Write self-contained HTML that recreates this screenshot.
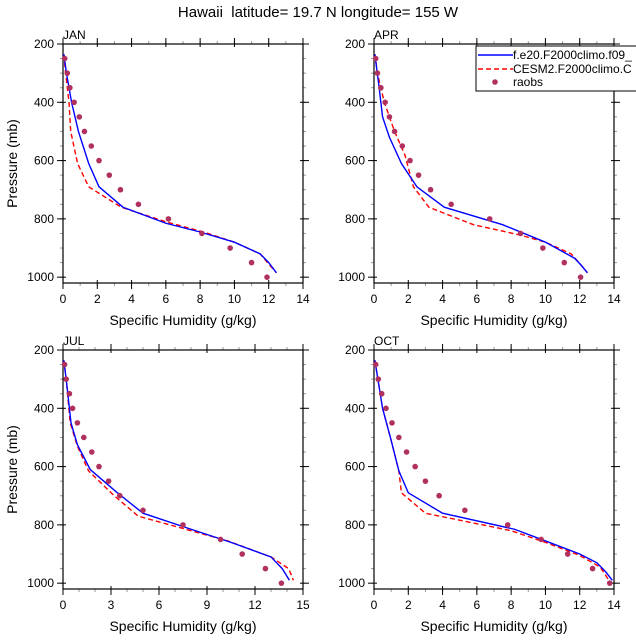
<!DOCTYPE html>
<html><head><meta charset="utf-8"><style>
body{margin:0;background:#fff;}
svg text{font-family:"Liberation Sans",sans-serif;}
</style></head><body>
<svg id="c" width="636" height="639" xmlns="http://www.w3.org/2000/svg">
<rect width="636" height="639" fill="#fff"/>
<text x="318" y="17" text-anchor="middle" font-size="15" xml:space="preserve" style="white-space:pre">Hawaii  latitude= 19.7 N longitude= 155 W</text>
</svg>
<script>
const raobsP=[250,300,350,400,450,500,550,600,650,700,750,800,850,900,950,1000];
const janRaobs=[0.1,0.25,0.4,0.65,0.95,1.25,1.65,2.1,2.7,3.35,4.4,6.15,8.1,9.75,11.0,11.9];
const aprRaobs=[0.1,0.2,0.4,0.65,0.9,1.2,1.65,2.1,2.6,3.3,4.5,6.75,8.55,9.85,11.1,12.05];
const julRaobs=[0.1,0.2,0.4,0.6,0.9,1.3,1.8,2.25,2.85,3.55,5.0,7.5,9.85,11.2,12.65,13.65];
const octRaobs=[0.1,0.25,0.45,0.7,1.05,1.45,1.9,2.4,3.0,3.8,5.3,7.8,9.75,11.3,12.75,13.75];
const janBlueQ=[0.05,0.2,0.5,0.9,1.5,2.1,3.5,6,8,10,11.5,12,12.45];
const janBlueP=[235,300,400,500,610,690,760,815,845,880,920,950,985];
const janRedQ=[0.05,0.15,0.35,0.45,0.85,1.5,3.4,6,8.2,10,11.5,12,12.45];
const janRedP=[235,300,400,500,610,690,760,810,845,880,920,955,985];
const aprBlueQ=[0.05,0.3,0.5,0.9,1.6,2.5,4.1,7.5,10,11.7,12.1,12.45];
const aprBlueP=[235,350,450,520,610,690,760,820,880,935,960,985];
const aprRedQ=[0.05,0.2,0.6,1.2,1.8,2.3,3.2,5.8,8.5,10,11.5,12.1,12.45];
const aprRedP=[235,300,400,500,580,690,760,820,855,880,920,960,985];
const julBlueQ=[0.05,0.2,0.5,0.9,1.7,3.4,5,8,10.5,13,13.7,14.15];
const julBlueP=[235,300,450,525,610,690,760,815,860,910,950,990];
const julRedQ=[0.05,0.2,0.45,0.9,1.6,3.2,4.7,8,10.3,13,14.1,14.4];
const julRedP=[235,300,450,530,615,700,770,820,855,910,950,990];
const octBlueQ=[0.05,0.5,1.0,1.45,2.0,4.0,8.2,10,12,13,13.5,13.9];
const octBlueP=[235,400,510,615,690,760,815,855,900,930,960,990];
const octRedQ=[0.05,0.5,1.0,1.45,1.6,3.0,8,10,12,13.2,13.7];
const octRedP=[235,400,510,615,690,760,820,860,905,945,990];
const xTicks14=[0,2,4,6,8,10,12,14];
const xTicks15=[0,3,6,9,12,15];
const yTicks=[200,400,600,800,1000];

const NS="http://www.w3.org/2000/svg";
const svg=document.getElementById('c');
function mk(tag,attrs,parent){const e=document.createElementNS(NS,tag);for(const k in attrs)e.setAttribute(k,attrs[k]);(parent||svg).appendChild(e);return e;}

function panel(id,label,x0,y0,xmax,xTicks,minorStep,showY,raobs,bq,bp,rq,rp,legend){
  const W=240,H=239,pMin=200,pMax=1020;
  const g=mk('g',{});
  
  
  const sx=v=>x0+v/xmax*W;
  const sy=p=>y0+(p-pMin)/(pMax-pMin)*H;
  for(let v=0;v<=xmax+1e-9;v+=minorStep){
    mk('line',{x1:sx(v),x2:sx(v),y1:y0+H,y2:y0+H+3,stroke:'#999','stroke-width':1},g);
    mk('line',{x1:sx(v),x2:sx(v),y1:y0,y2:y0-3,stroke:'#999','stroke-width':1},g);
  }
  for(let p=250;p<=1000;p+=50){
    mk('line',{x1:x0-3,x2:x0,y1:sy(p),y2:sy(p),stroke:'#999','stroke-width':1},g);
    mk('line',{x1:x0+W,x2:x0+W+3,y1:sy(p),y2:sy(p),stroke:'#999','stroke-width':1},g);
  }
  xTicks.forEach(v=>{
    mk('line',{x1:sx(v),x2:sx(v),y1:y0+H-3,y2:y0+H+6,stroke:'#000','stroke-width':1},g);
    mk('line',{x1:sx(v),x2:sx(v),y1:y0+3,y2:y0-6,stroke:'#000','stroke-width':1},g);
    const t=mk('text',{x:sx(v),y:y0+H+20,'text-anchor':'middle','font-size':12},g);t.textContent=v;
    
    
  });
  yTicks.forEach(p=>{
    mk('line',{x1:x0-6,x2:x0+3,y1:sy(p),y2:sy(p),stroke:'#000','stroke-width':1},g);
    mk('line',{x1:x0+W-3,x2:x0+W+6,y1:sy(p),y2:sy(p),stroke:'#000','stroke-width':1},g);
    const t=mk('text',{x:x0-9,y:sy(p)+4,'text-anchor':'end','font-size':12},g);t.textContent=p;
    
    
  });
  mk('rect',{x:x0,y:y0,width:W,height:H,fill:'none',stroke:'#000','stroke-width':1.2},g);
  const lb=mk('text',{x:x0,y:y0-5,'font-size':12},g);lb.textContent=label;
  
  
  const xt=mk('text',{x:x0+W/2,y:y0+H+42,'text-anchor':'middle','font-size':14},g);xt.textContent='Specific Humidity (g/kg)';
  
  
  if(showY){
    const yt=mk('text',{x:0,y:0,'text-anchor':'middle','font-size':14,transform:`translate(17,${y0+H/2}) rotate(-90)`},g);yt.textContent='Pressure (mb)';
    
    
  }
  const r=mk('polyline',{points:rq.map((q,i)=>sx(q)+','+sy(rp[i])).join(' '),fill:'none',stroke:'#f00','stroke-width':1.4,'stroke-dasharray':'5,3'},g);
  
  
  const b=mk('polyline',{points:bq.map((q,i)=>sx(q)+','+sy(bp[i])).join(' '),fill:'none',stroke:'#00f','stroke-width':1.4},g);
  
  
  raobs.forEach((q,i)=>{
    const c=mk('circle',{cx:sx(q),cy:sy(raobsP[i]),r:2.8,fill:'#b03060'},g);
    
    
  });
  if(legend){
    const lg=mk('g',{},g);
    
    
    mk('rect',{x:476,y:46,width:170,height:45,fill:'#fff',stroke:'#000','stroke-width':1},lg);
    mk('line',{x1:478,x2:513,y1:55,y2:55,stroke:'#00f','stroke-width':1.4},lg);
    mk('line',{x1:478,x2:513,y1:69,y2:69,stroke:'#f00','stroke-width':1.4,'stroke-dasharray':'5,3'},lg);
    mk('circle',{cx:495,cy:82,r:2.8,fill:'#b03060'},lg);
    [['f.e20.F2000climo.f09_',59],['CESM2.F2000climo.C',73],['raobs',86]].forEach(([s,y])=>{
      const t=mk('text',{x:513,y:y,'font-size':12},lg);t.textContent=s;
      
      
    });
  }
}
panel('jan','JAN',63,44,14,xTicks14,1,true,janRaobs,janBlueQ,janBlueP,janRedQ,janRedP,false);
panel('apr','APR',374,44,14,xTicks14,1,false,aprRaobs,aprBlueQ,aprBlueP,aprRedQ,aprRedP,true);
panel('jul','JUL',63,350,15,xTicks15,1,true,julRaobs,julBlueQ,julBlueP,julRedQ,julRedP,false);
panel('oct','OCT',374,350,14,xTicks14,1,false,octRaobs,octBlueQ,octBlueP,octRedQ,octRedP,false);
</script>
</body></html>
